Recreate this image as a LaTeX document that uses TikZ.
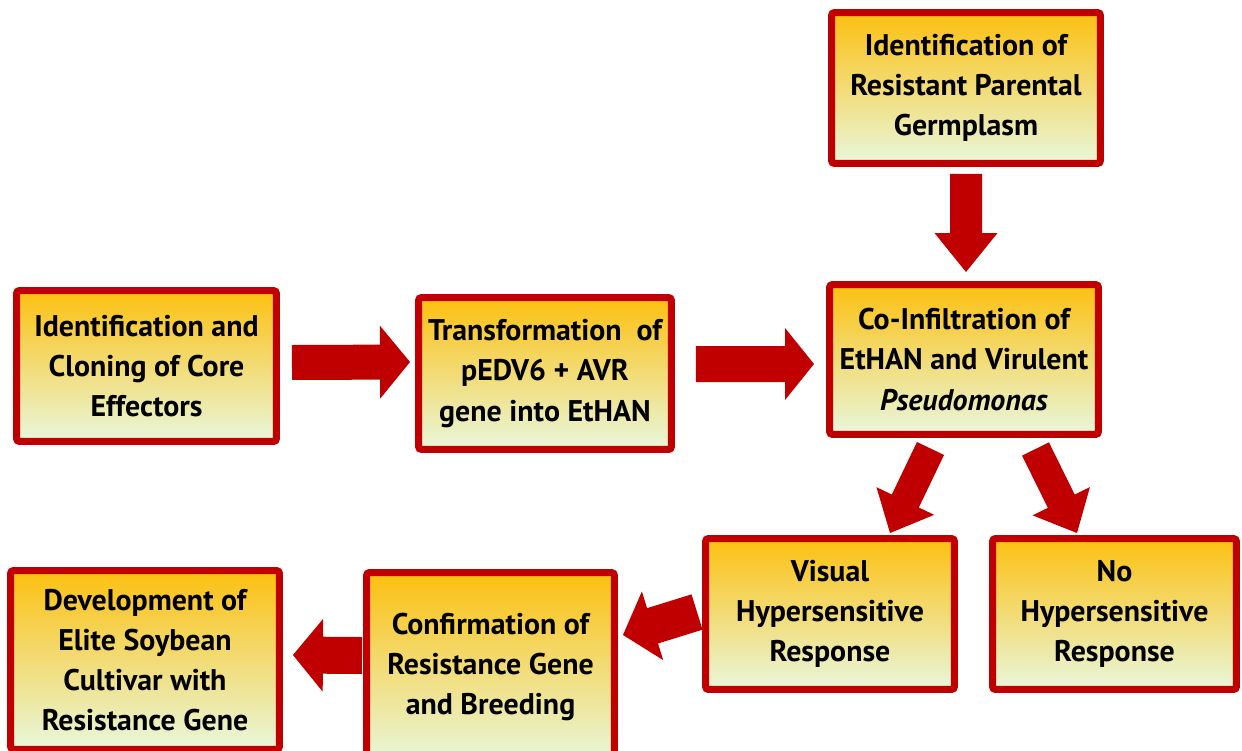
\documentclass[tikz,border=0pt]{standalone}
\usepackage{fontspec}
\setmainfont{PT Sans}
\usetikzlibrary{calc}
\definecolor{arrowred}{RGB}{192,0,0}
\definecolor{boxtop}{RGB}{252,192,16}
\definecolor{boxbot}{RGB}{232,247,220}
% block arrow: tail, tip, shaft half width, head half width, head length
\newcommand{\bigarrow}[5]{%
  \coordinate (neck) at ($(#2)!#5!(#1)$);
  \fill[arrowred] ($(#1)!#3!90:(#2)$) -- ($(neck)!#3!90:(#2)$) -- ($(neck)!#4!90:(#2)$)
    -- (#2) -- ($(neck)!#4!-90:(#2)$) -- ($(neck)!#3!-90:(#2)$) -- ($(#1)!#3!-90:(#2)$) -- cycle;}

\begin{document}
\begin{tikzpicture}[x=0.02cm,y=-0.02cm,
    stagebox/.style={draw=arrowred, line width=0.14cm, rounded corners=0.06cm,
      top color=boxtop, bottom color=boxbot, inner sep=0pt, align=center,
      font=\fontsize{17}{22.8}\selectfont\bfseries}]
\useasboundingbox (0,0) rectangle (1242,751);

\node[stagebox, minimum width=5.38cm, minimum height=3.02cm] (germ) at (966,88)
  {Identification of\\Resistant Parental\\Germplasm};
\node[stagebox, minimum width=5.2cm, minimum height=3.02cm] (effect) at (146.5,366)
  {Identification and\\Cloning of Core\\Effectors};
\node[stagebox, minimum width=5.06cm, minimum height=3.04cm] (transf) at (545,373.5)
  {Transformation\ \ of\\pEDV6 + AVR\\gene into EtHAN};
\node[stagebox, minimum width=5.38cm, minimum height=3.0cm] (coinf) at (964,359.5)
  {Co-Infiltration of\\EtHAN and Virulent\\\textit{Pseudomonas}};
\node[stagebox, minimum width=4.98cm, minimum height=3.02cm] (visual) at (830,614)
  {Visual\\Hypersensitive\\Response};
\node[stagebox, minimum width=4.88cm, minimum height=3.02cm] (nohr) at (1114.5,614)
  {No\\Hypersensitive\\Response};
\node[stagebox, minimum width=4.96cm, minimum height=3.78cm] (confirm) at (490.5,667)
  {Confirmation of\\Resistance Gene\\and Breeding};
\node[stagebox, minimum width=5.38cm, minimum height=3.58cm] (develop) at (145,660)
  {Development of\\Elite Soybean\\Cultivar with\\Resistance Gene};

% arrow ends
\coordinate (e1) at ($(effect.east)+(12,-3.5)$);
\coordinate (t1) at ($(transf.west)+(-5,-11.5)$);
\coordinate (e2) at ($(transf.east)+(21,-9.5)$);
\coordinate (t2) at ($(coinf.west)+(-12,4.5)$);
\coordinate (e3) at ($(germ.south)+(0,7)$);
\coordinate (t3) at ($(coinf.north)+(2,-9)$);
\coordinate (e4) at ($(coinf.south)+(-33.5,10.5)$);
\coordinate (t4) at ($(visual.north)+(60,-2)$);
\coordinate (e5) at ($(coinf.south)+(71.5,11)$);
\coordinate (t5) at ($(nohr.north)+(-37.5,-2)$);
\coordinate (e6) at ($(visual.west)+(-5,-2)$);
\coordinate (t6) at ($(confirm.east)+(5,-32)$);
\coordinate (e7) at ($(confirm.west)+(-1,-11.5)$);
\coordinate (t7) at ($(develop.east)+(10,-5)$);

\bigarrow{e1}{t1}{0.35cm}{0.73cm}{0.6cm}
\bigarrow{e2}{t2}{0.36cm}{0.72cm}{0.58cm}
\bigarrow{e3}{t3}{0.32cm}{0.63cm}{0.78cm}
\bigarrow{e4}{t4}{0.3cm}{0.64cm}{0.71cm}
\bigarrow{e5}{t5}{0.3cm}{0.64cm}{0.71cm}
\bigarrow{e6}{t6}{0.37cm}{0.72cm}{0.62cm}
\bigarrow{e7}{t7}{0.37cm}{0.73cm}{0.6cm}
\end{tikzpicture}
\end{document}
